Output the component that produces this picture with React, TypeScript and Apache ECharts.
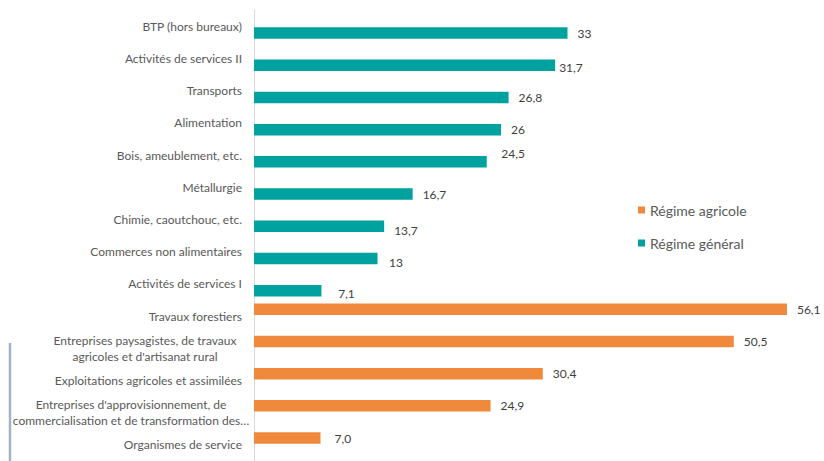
import React, { useEffect, useRef } from "react";
import * as echarts from "echarts";

const categories = [
  "BTP (hors bureaux)",
  "Activités de services II",
  "Transports",
  "Alimentation",
  "Bois, ameublement, etc.",
  "Métallurgie",
  "Chimie, caoutchouc, etc.",
  "Commerces non alimentaires",
  "Activités de services I",
  "Travaux forestiers",
  "Entreprises paysagistes, de travaux\nagricoles et d'artisanat rural",
  "Exploitations agricoles et assimilées",
  "Entreprises d'approvisionnement, de\ncommercialisation et de transformation des…",
  "Organismes de service",
];

const regimeGeneral: (number | null)[] = [33, 31.7, 26.8, 26, 24.5, 16.7, 13.7, 13, 7.1, null, null, null, null, null];
const regimeAgricole: (number | null)[] = [null, null, null, null, null, null, null, null, null, 56.1, 50.5, 30.4, 24.9, 7.0];

const seriesNames = ["Régime agricole", "Régime général"];

// label layout tweaks (index -> distance / vertical offset)
const labelTweaks: Record<number, { d: number; dy: number }> = {
  1: { d: 4, dy: 2.5 },
  4: { d: 14.6, dy: -8 },
  6: { d: 10, dy: 4 },
  7: { d: 11.6, dy: 4 },
  8: { d: 16.7, dy: 2.6 },
  13: { d: 14, dy: 0 },
};

const FONT = "Lato, 'Noto Sans', sans-serif";

function buildData(values: (number | null)[], fmt: (v: number) => string) {
  return values.map((v, i) => {
    if (v === null) return null;
    const t = labelTweaks[i] || { d: 10, dy: 0 };
    return {
      value: v,
      label: {
        distance: t.d,
        offset: [0, t.dy],
        formatter: () => fmt(v),
      },
    };
  });
}

export default function App() {
  const ref = useRef<HTMLDivElement>(null);
  useEffect(() => {
    if (!ref.current) return;
    const chart = echarts.init(ref.current, undefined, { renderer: "svg" });
    const labelStyle = {
      show: true,
      position: "right" as const,
      color: "#404040",
      fontSize: 12,
      fontFamily: FONT,
    };
    chart.setOption({
      animation: false,
      grid: { left: 254, top: 10.1, width: 573.6, height: 451.3 },
      legend: {
        orient: "vertical",
        left: 638,
        top: 203,
        padding: 0,
        itemWidth: 7,
        itemHeight: 7,
        itemGap: 19,
        icon: "rect",
        data: seriesNames,
        textStyle: { fontSize: 14, lineHeight: 14, color: "#595959", fontFamily: FONT },
      },
      xAxis: {
        type: "value",
        min: 0,
        max: 60,
        show: false,
      },
      yAxis: {
        type: "category",
        inverse: true,
        data: categories,
        axisLine: { show: true, lineStyle: { color: "#D9D9D9", width: 1 } },
        axisTick: { show: false },
        axisLabel: {
          margin: 12,
          color: "#595959",
          fontSize: 12,
          fontFamily: FONT,
          formatter: (val: string) => {
            if (val.indexOf("\n") < 0) return val;
            const lines = val.split("\n");
            const key = val.startsWith("Entreprises paysagistes") ? "p" : "q";
            return lines.map((l) => `{${key}|${l}}`).join("\n");
          },
          rich: {
            p: { width: 194, align: "center", lineHeight: 16, fontSize: 12, color: "#595959", fontFamily: FONT },
            q: { width: 222, align: "center", lineHeight: 16, fontSize: 12, color: "#595959", fontFamily: FONT },
          },
        },
      },
      series: [
        {
          name: seriesNames[0],
          type: "bar",
          barWidth: 11.5,
          barGap: "19%",
          itemStyle: { color: "#F0893C" },
          label: labelStyle,
          data: buildData(regimeAgricole, (v) => v.toFixed(1).replace(".", ",")),
        },
        {
          name: seriesNames[1],
          type: "bar",
          barWidth: 11.5,
          barGap: "19%",
          itemStyle: { color: "#00A29F" },
          label: labelStyle,
          data: buildData(regimeGeneral, (v) => String(v).replace(".", ",")),
        },
      ],
      graphic: [
        {
          type: "line",
          shape: { x1: 10, y1: 343, x2: 10, y2: 461 },
          style: { stroke: "#A3B3C1", lineWidth: 2.5 },
        },
      ],
    });
    return () => chart.dispose();
  }, []);
  return <div ref={ref} style={{ position: "absolute", left: 0, top: 0, width: 824, height: 461 }} />;
}
